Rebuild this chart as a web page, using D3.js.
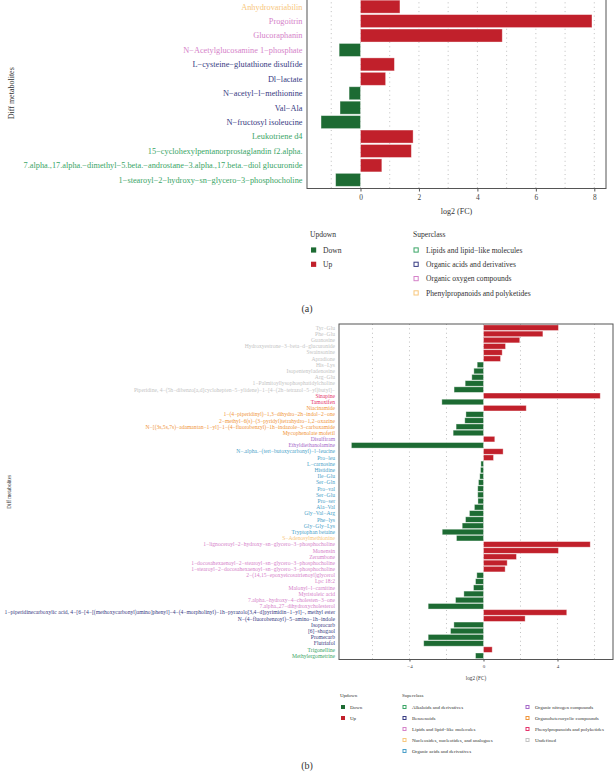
<!DOCTYPE html>
<html><head><meta charset="utf-8">
<script src="https://cdn.jsdelivr.net/npm/d3@7/dist/d3.min.js"></script>
<style>body{margin:0;background:#fff}svg{display:block}text{font-family:"Liberation Serif","Times New Roman",serif}</style>
</head><body>
<svg id="c" width="614" height="774"></svg>
<script>
// ---------- Panel (a) data ----------
const namesA = ["Anhydrovariabilin","Progoitrin","Glucoraphanin","N\u2212Acetylglucosamine 1\u2212phosphate",
"L\u2212cysteine\u2212glutathione disulfide","Dl\u2212lactate","N\u2212acetyl\u2212l\u2212methionine","Val\u2212Ala",
"N\u2212fructosyl isoleucine","Leukotriene d4","15\u2212cyclohexylpentanorprostaglandin f2.alpha.",
"7.alpha.,17.alpha.\u2212dimethyl\u22125.beta.\u2212androstane\u22123.alpha.,17.beta.\u2212diol glucuronide",
"1\u2212stearoyl\u22122\u2212hydroxy\u2212sn\u2212glycero\u22123\u2212phosphocholine"];
const valuesA = [1.35,7.92,4.85,-0.73,1.16,0.86,-0.39,-0.70,-1.35,1.80,1.74,0.73,-0.85];
const classA = [3,2,2,2,1,1,1,1,1,0,0,0,0];
const superA = ["Lipids and lipid\u2212like molecules","Organic acids and derivatives","Organic oxygen compounds","Phenylpropanoids and polyketides"];
const superColorsA = ["#3aa566","#373b82","#d582c9","#f8c77c"];
const ticksA = [0,2,4,6,8];
const gridA = [-1,0,1,2,3,4,5,6,7,8];

// ---------- Panel (b) data ----------
const namesB = ["Tyr\u2212Glu","Phe\u2212Glu","Guanosine","Hydroxyestrone\u22123\u2212beta\u2212d\u2212glucuronide","Swainsonine","Apradione",
"His\u2212Lys","Isopentenyladenosine","Arg\u2212Glu","1\u2212Palmitoyllysophosphatidylcholine",
"Piperidine, 4\u2212(5h\u2212dibenzo[a,d]cyclohepten\u22125\u2212ylidene)\u22121\u2212[4\u2212(2h\u2212tetrazol\u22125\u2212yl)butyl]\u2212",
"Sinapine","Tamoxifen","Niacinamide","1\u2212(4\u2212piperidinyl)\u22121,3\u2212dihydro\u22122h\u2212indol\u22122\u2212one",
"2\u2212methyl\u22126(s)\u2212(3\u2212pyridyl)tetrahydro\u22121,2\u2212oxazine",
"N\u2212[(3s,5s,7s)\u2212adamantan\u22121\u2212yl]\u22121\u2212(4\u2212fluorobenzyl)\u22121h\u2212indazole\u22123\u2212carboxamide",
"Mycophenolate mofetil","Disulfiram","Ethyldiethanolamine","N\u2212.alpha.\u2212(tert\u2212butoxycarbonyl)\u2212l\u2212leucine",
"Pro\u2212leu","L\u2212carnosine","Histidine","Ile\u2212Glu","Ser\u2212Gln","Pro\u2212val","Ser\u2212Glu","Pro\u2212ser","Ala\u2212Val",
"Gly\u2212Val\u2212Arg","Phe\u2212lys","Gly\u2212Gly\u2212Lys","Tryptophan betaine","S\u2212Adenosylmethionine",
"1\u2212lignoceroyl\u22122\u2212hydroxy\u2212sn\u2212glycero\u22123\u2212phosphocholine","Monensin","Zerumbone",
"1\u2212docosahexaenoyl\u22122\u2212stearoyl\u2212sn\u2212glycero\u22123\u2212phosphocholine",
"1\u2212stearoyl\u22122\u2212docosahexaenoyl\u2212sn\u2212glycero\u22123\u2212phosphocholine",
"2\u2212(14,15\u2212epoxyeicosatrienoyl)glycerol","Lpc 18:2","Malonyl\u2212l\u2212carnitine","Myristoleic acid",
"7.alpha.\u2212hydroxy\u22124\u2212cholesten\u22123\u2212one","7.alpha.,27\u2212dihydroxycholesterol",
"1\u2212piperidinecarboxylic acid, 4\u2212[6\u2212[4\u2212[(methoxycarbonyl)amino]phenyl]\u22124\u2212(4\u2212morpholinyl)\u22121h\u2212pyrazolo[3,4\u2212d]pyrimidin\u22121\u2212yl]\u2212, methyl ester",
"N\u2212(4\u2212fluorobenzoyl)\u22125\u2212amino\u22121h\u2212indole","Isoprocarb","[6]\u2212shogaol","Promecarb","Flutriafol",
"Trigonelline","Methylergometrine"];
const valuesB = [4.05,3.21,1.96,1.19,1.01,0.92,-0.34,-0.52,-0.63,-0.99,-1.59,6.31,-2.25,2.31,-0.95,-1.01,-1.48,-1.64,
0.61,-7.14,1.06,0.54,-0.14,-0.16,-0.20,-0.27,-0.31,-0.31,-0.30,-0.49,-0.76,-0.97,-1.15,-2.23,-1.46,
5.77,4.05,1.78,1.28,1.17,-0.36,-0.43,-0.54,-1.06,-1.51,-2.99,4.50,2.25,-1.60,-1.78,-2.99,-3.23,0.47,-0.43];
const classB = [8,8,8,8,8,8,8,8,8,8,8,7,7,6,6,6,6,6,5,5,4,4,4,4,4,4,4,4,4,4,4,4,4,4,3,
2,2,2,2,2,2,2,2,2,2,2,1,1,1,1,1,1,0,0];
const superB = ["Alkaloids and derivatives","Benzenoids","Lipids and lipid\u2212like molecules","Nucleosides, nucleotides, and analogues",
"Organic acids and derivatives","Organic nitrogen compounds","Organoheterocyclic compounds","Phenylpropanoids and polyketides","Undefined"];
const superColorsB = ["#3aa566","#373b82","#d582c9","#f8c77c","#4a9fc9","#a569c9","#f0953a","#e5336b","#c4c4c4"];
const ticksB = [-4,0,4];
const gridB = [-6,-4,-2,0,2,4,6];

const updown = ["Down","Up"];
const updownColors = ["#1d6b33","#c1202b"];

const svg = d3.select("#c");

function panel(o){
  const g = svg.append("g");
  const n = o.names.length;
  const x = d3.scaleLinear().domain(o.domain).range([o.left,o.right]);
  const y = d3.scaleBand().domain(d3.range(n)).range([o.top,o.bottom]).paddingInner(0.1).paddingOuter(0.15);
  g.selectAll(".grid").data(o.grid).join("line")
    .attr("x1",d=>x(d)).attr("x2",d=>x(d)).attr("y1",o.top).attr("y2",o.bottom)
    .attr("stroke","#9a9a9a").attr("stroke-width",0.7).attr("stroke-dasharray","0.9,3.5");
  g.selectAll(".bar").data(o.values).join("rect")
    .attr("x",d=>x(Math.min(0,d))).attr("width",d=>Math.abs(x(d)-x(0)))
    .attr("y",(d,i)=>y(i)).attr("height",y.bandwidth())
    .attr("fill",d=>d<0?updownColors[0]:updownColors[1])
    .attr("stroke","rgba(255,255,255,0.45)").attr("stroke-width",0.8);
  g.append("rect").attr("x",o.left).attr("y",o.top).attr("width",o.right-o.left).attr("height",o.bottom-o.top)
    .attr("fill","none").attr("stroke","#555").attr("stroke-width",1);
  g.selectAll(".lab").data(o.names).join("text")
    .attr("x",o.left-o.labGap).attr("y",(d,i)=>y(i)+y.bandwidth()/2).attr("dy","0.35em")
    .attr("text-anchor","end").attr("font-size",o.labSize)
    .attr("fill",(d,i)=>o.colors[o.cls[i]]).text(d=>d);
  const ax = g.append("g").attr("transform",`translate(0,${o.bottom})`)
    .call(d3.axisBottom(x).tickValues(o.ticks).tickSize(o.tickLen).tickFormat(d=>d<0?"\u2212"+Math.abs(d):d));
  ax.select(".domain").remove();
  ax.selectAll("line").attr("stroke","#555");
  ax.selectAll("text").attr("font-size",o.tickSize).attr("fill","#444").attr("font-family","Liberation Serif");
  g.append("text").attr("x",(o.left+o.right)/2).attr("y",o.xTitleY).attr("text-anchor","middle")
    .attr("font-size",o.titleSize).attr("fill","#333").text("log2 (FC)");
  g.append("text").attr("transform",`translate(${o.yTitleX},${(o.top+o.bottom)/2}) rotate(-90)`)
    .attr("text-anchor","middle").attr("font-size",o.titleSize).attr("fill","#333").text("Diff metabolites");
  const L = o.leg;
  g.append("text").attr("x",L.ux).attr("y",L.ty).attr("font-size",L.fs).attr("fill","#333").text("Updown");
  updown.forEach((u,i)=>{
    const yy = L.y0 + i*L.dy;
    g.append("rect").attr("x",L.ux+1).attr("y",yy-L.sq/2).attr("width",L.sq).attr("height",L.sq).attr("fill",updownColors[i]);
    g.append("text").attr("x",L.ux+L.tx).attr("y",yy).attr("dy","0.35em").attr("font-size",L.fs).attr("fill","#333").text(u);
  });
  g.append("text").attr("x",L.sx).attr("y",L.ty).attr("font-size",L.fs).attr("fill","#333").text("Superclass");
  o.supers.forEach((s,i)=>{
    const col = Math.floor(i/L.perCol), row = i%L.perCol;
    const xx = L.sx + col*L.colW, yy = L.y0 + row*L.dy;
    g.append("rect").attr("x",xx+1).attr("y",yy-L.sq/2+0.5).attr("width",L.sq-1).attr("height",L.sq-1)
      .attr("fill","#fff").attr("stroke",o.colors[i]).attr("stroke-width",1);
    g.append("text").attr("x",xx+L.tx).attr("y",yy).attr("dy","0.35em").attr("font-size",L.fs).attr("fill","#333").text(s);
  });
  svg.append("text").attr("x",307).attr("y",o.capY).attr("text-anchor","middle").attr("font-size",10).attr("fill","#333").text(o.cap);
}

panel({names:namesA, values:valuesA, cls:classA, colors:superColorsA, supers:superA,
  domain:[-1.83,8.4], left:307, right:606, top:-2, bottom:188.5,
  grid:gridA, ticks:ticksA, labSize:8.3, labGap:4.5, tickLen:3, tickSize:7.4, titleSize:8,
  xTitleY:214, yTitleX:14,
  leg:{ux:310, sx:413, ty:237, y0:250, dy:14.3, sq:5.2, tx:13, fs:7.6, perCol:4, colW:0},
  capY:312, cap:"(a)"});

panel({names:namesB, values:valuesB, cls:classB, colors:superColorsB, supers:superB,
  domain:[-7.81,7.0], left:339, right:613, top:324, bottom:659.5,
  grid:gridB, ticks:ticksB, labSize:5.6, labGap:4, tickLen:2, tickSize:5, titleSize:5.2,
  xTitleY:680, yTitleX:11,
  leg:{ux:340, sx:402, ty:697, y0:707, dy:11, sq:4, tx:10, fs:5, perCol:5, colW:123},
  capY:769, cap:"(b)"});
</script>
</body></html>
